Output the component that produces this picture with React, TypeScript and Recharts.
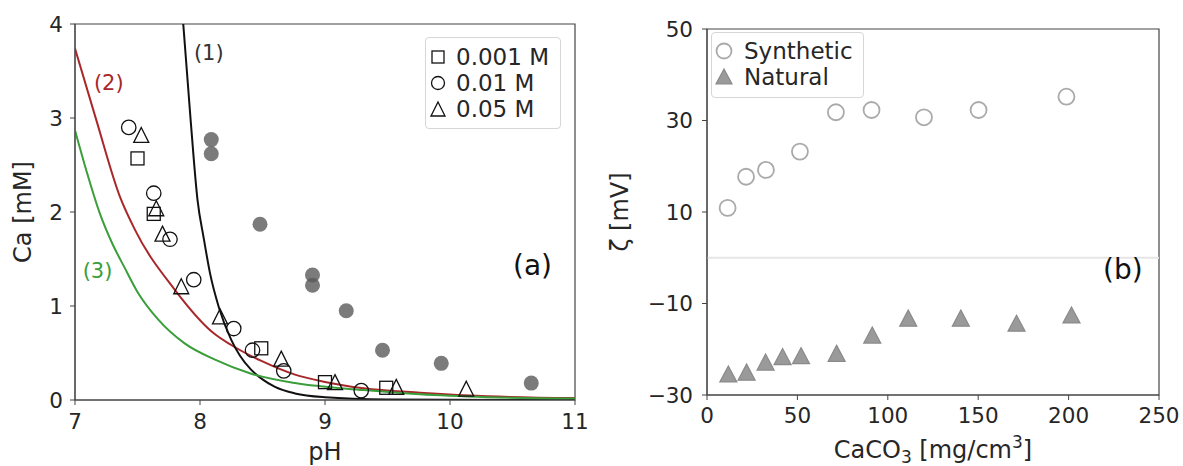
import React from 'react';
import {
  ComposedChart,
  Scatter,
  Line,
  XAxis,
  YAxis,
  ReferenceArea,
  ReferenceLine,
  ReferenceDot,
} from 'recharts';

const FONT = '"DejaVu Sans", sans-serif';
const TXT = '#262626';
const AX = '#444';

// ---------- Panel (a) ----------
const phTicks = [7, 8, 9, 10, 11];
const caTicks = [0, 1, 2, 3, 4];

const sq001pH = [7.5, 7.63, 8.49, 9.0, 9.49];
const sq001Ca = [2.57, 1.98, 0.55, 0.19, 0.13];
const ci01pH = [7.43, 7.63, 7.76, 7.95, 8.27, 8.42, 8.67, 9.29];
const ci01Ca = [2.9, 2.2, 1.71, 1.28, 0.76, 0.53, 0.31, 0.1];
const tr05pH = [7.53, 7.65, 7.7, 7.85, 8.16, 8.65, 9.08, 9.57, 10.13];
const tr05Ca = [2.82, 2.04, 1.77, 1.21, 0.89, 0.44, 0.19, 0.14, 0.12];
const filledpH = [8.09, 8.09, 8.48, 8.9, 8.9, 9.17, 9.46, 9.93, 10.65];
const filledCa = [2.77, 2.62, 1.87, 1.33, 1.22, 0.95, 0.53, 0.39, 0.18];

const curve1pH = [7.866, 7.925, 7.98, 8.03, 8.08, 8.15, 8.25, 8.32, 8.41, 8.5, 8.6, 8.76, 9.0, 9.5, 10, 11];
const curve1Ca = [4.0, 2.98, 2.13, 1.72, 1.35, 0.99, 0.64, 0.47, 0.32, 0.22, 0.14, 0.07, 0.03, 0.006, 0.002, 0.0];
const curve2pH = [7.0, 7.17, 7.36, 7.48, 7.8, 8.11, 8.25, 8.5, 8.76, 8.99, 9.31, 9.76, 10.3, 11];
const curve2Ca = [3.74, 2.98, 2.16, 1.81, 1.17, 0.71, 0.585, 0.41, 0.27, 0.195, 0.124, 0.078, 0.04, 0.02];
const curve3pH = [7.0, 7.1, 7.2, 7.3, 7.4, 7.5, 7.67, 7.88, 8.12, 8.41, 8.76, 9.31, 9.76, 10.3, 11];
const curve3Ca = [2.87, 2.4, 1.98, 1.66, 1.4, 1.15, 0.85, 0.6, 0.43, 0.28, 0.18, 0.106, 0.06, 0.03, 0.015];

// ---------- Panel (b) ----------
const cacoTicks = [0, 50, 100, 150, 200, 250];
const zetaTicks = [-30, -10, 10, 30, 50];
const synthX = [11.4, 21.6, 32.6, 51.4, 71.3, 91.0, 120.0, 150.2, 198.8];
const synthZ = [10.9, 17.7, 19.2, 23.2, 31.8, 32.3, 30.7, 32.3, 35.2];
const natX = [11.8, 21.9, 32.4, 41.8, 52.0, 71.7, 91.4, 111.3, 140.4, 171.2, 201.6];
const natZ = [-25.4, -25.0, -22.8, -21.6, -21.4, -20.9, -16.9, -13.2, -13.2, -14.3, -12.5];

const pts = (xs: number[], ys: number[]) => xs.map((x, i) => ({ x, y: ys[i] }));
const minusFmt = (v: number) => String(v).replace('-', '\u2212');

const RED = '#a8282a';
const GREEN = '#3a9e3a';

const SquareShape = (p: any) => (
  <rect x={p.cx - 6.5} y={p.cy - 6.5} width={13} height={13} fill="none" stroke="#111" strokeWidth={1.3} />
);
const CircleShape = (p: any) => (
  <circle cx={p.cx} cy={p.cy} r={7.2} fill="none" stroke="#111" strokeWidth={1.3} />
);
const TriShape = (p: any) => (
  <path
    d={`M${p.cx},${p.cy - 7.5}L${p.cx + 7.5},${p.cy + 7.5}L${p.cx - 7.5},${p.cy + 7.5}Z`}
    fill="none"
    stroke="#111"
    strokeWidth={1.3}
  />
);
const FilledShape = (p: any) => (
  <circle cx={p.cx} cy={p.cy} r={7.5} fill="#5a5a5a" fillOpacity={0.8} />
);
const SynthShape = (p: any) => (
  <circle cx={p.cx} cy={p.cy} r={8} fill="none" stroke="#aaaaaa" strokeWidth={1.8} />
);
const NatShape = (p: any) => (
  <path
    d={`M${p.cx},${p.cy - 8}L${p.cx + 8.5},${p.cy + 8}L${p.cx - 8.5},${p.cy + 8}Z`}
    fill="#9a9a9a"
    stroke="#8a8a8a"
    strokeWidth={1.2}
  />
);

const tickStyle = { fill: TXT, fontSize: 21.5, fontFamily: FONT };

const textLabel = (txt: string, color: string, size: number) => (props: any) => {
  const vb = props.viewBox || {};
  const cx = vb.x + (vb.width || 0) / 2;
  const cy = vb.y + (vb.height || 0) / 2;
  return (
    <text x={cx} y={cy} dy="0.36em" textAnchor="middle" fill={color} fontSize={size} fontFamily={FONT}>
      {txt}
    </text>
  );
};

const PanelA = () => (
  <ComposedChart width={600} height={466} margin={{ top: 24, right: 25, bottom: 0, left: 0 }}>
    <XAxis
      dataKey="x"
      type="number"
      domain={[7, 11]}
      ticks={phTicks}
      allowDataOverflow
      height={66}
      tickSize={5}
      tickMargin={9}
      stroke={AX}
      tick={tickStyle}
      label={{
        content: (props: any) => {
          const vb = props.viewBox;
          return (
            <text x={vb.x + vb.width / 2} y={vb.y + 60} textAnchor="middle" fill={TXT} fontSize={24} fontFamily={FONT}>
              pH
            </text>
          );
        },
      }}
    />
    <YAxis
      dataKey="y"
      type="number"
      domain={[0, 4]}
      ticks={caTicks}
      allowDataOverflow
      width={75}
      tickSize={5}
      tickMargin={7}
      stroke={AX}
      tick={tickStyle}
      label={{
        content: (props: any) => {
          const vb = props.viewBox;
          const cy = vb.y + vb.height / 2;
          return (
            <text x={31} y={cy} transform={`rotate(-90 31 ${cy})`} textAnchor="middle" fill={TXT} fontSize={24} fontFamily={FONT}>
              Ca [mM]
            </text>
          );
        },
      }}
    />
    <ReferenceArea x1={7} x2={11} y1={0} y2={4} fill="none" stroke={AX} strokeWidth={1.2} />
    <Line data={pts(curve2pH, curve2Ca)} dataKey="y" type="monotone" stroke={RED} strokeWidth={2} dot={false} isAnimationActive={false} />
    <Line data={pts(curve1pH, curve1Ca)} dataKey="y" type="monotone" stroke="#111" strokeWidth={2} dot={false} isAnimationActive={false} />
    <Line data={pts(curve3pH, curve3Ca)} dataKey="y" type="monotone" stroke={GREEN} strokeWidth={2} dot={false} isAnimationActive={false} />
    <Scatter data={pts(filledpH, filledCa)} dataKey="y" shape={FilledShape} isAnimationActive={false} />
    <Scatter data={pts(sq001pH, sq001Ca)} dataKey="y" shape={SquareShape} isAnimationActive={false} />
    <Scatter data={pts(ci01pH, ci01Ca)} dataKey="y" shape={CircleShape} isAnimationActive={false} />
    <Scatter data={pts(tr05pH, tr05Ca)} dataKey="y" shape={TriShape} isAnimationActive={false} />
    <ReferenceDot x={8.07} y={3.7} r={0} fill="none" stroke="none" label={{ content: textLabel('(1)', '#333', 21) }} />
    <ReferenceDot x={7.27} y={3.38} r={0} fill="none" stroke="none" label={{ content: textLabel('(2)', RED, 21) }} />
    <ReferenceDot x={7.18} y={1.38} r={0} fill="none" stroke="none" label={{ content: textLabel('(3)', GREEN, 21) }} />
    <ReferenceDot x={10.66} y={1.44} r={0} fill="none" stroke="none" label={{ content: textLabel('(a)', '#111', 28) }} />
  </ComposedChart>
);

const PanelB = () => (
  <ComposedChart width={583} height={466} margin={{ top: 29, right: 24, bottom: 0, left: 0 }}>
    <XAxis
      dataKey="x"
      type="number"
      domain={[0, 250]}
      ticks={cacoTicks}
      allowDataOverflow
      height={71}
      tickSize={5}
      tickMargin={8}
      stroke={AX}
      tick={tickStyle}
      label={{
        content: (props: any) => {
          const vb = props.viewBox;
          return (
            <text x={vb.x + vb.width / 2} y={vb.y + 63} textAnchor="middle" fill={TXT} fontSize={24} fontFamily={FONT}>
              CaCO<tspan fontSize={17} dy={5}>3</tspan>
              <tspan dy={-5}> [mg/cm</tspan>
              <tspan fontSize={17} dy={-10}>3</tspan>
              <tspan dy={10}>]</tspan>
            </text>
          );
        },
      }}
    />
    <YAxis
      dataKey="y"
      type="number"
      domain={[-30, 50]}
      ticks={zetaTicks}
      tickFormatter={minusFmt}
      allowDataOverflow
      width={107}
      tickSize={5}
      tickMargin={9}
      stroke={AX}
      tick={tickStyle}
      label={{
        content: (props: any) => {
          const vb = props.viewBox;
          const cy = vb.y + vb.height / 2;
          return (
            <text x={28} y={cy} transform={`rotate(-90 28 ${cy})`} textAnchor="middle" fill={TXT} fontSize={24} fontFamily={FONT}>
              ζ [mV]
            </text>
          );
        },
      }}
    />
    <ReferenceLine y={0} stroke="#e6e6e6" strokeWidth={2} />
    <ReferenceArea x1={0} x2={250} y1={-30} y2={50} fill="none" stroke={AX} strokeWidth={1.2} />
    <Scatter data={pts(synthX, synthZ)} dataKey="y" shape={SynthShape} isAnimationActive={false} />
    <Scatter data={pts(natX, natZ)} dataKey="y" shape={NatShape} isAnimationActive={false} />
    <ReferenceDot x={230} y={-2.5} r={0} fill="none" stroke="none" label={{ content: textLabel('(b)', '#111', 28) }} />
  </ComposedChart>
);

const legendRow: React.CSSProperties = {
  display: 'flex',
  alignItems: 'center',
  height: 26,
  fontFamily: FONT,
  fontSize: 23,
  color: TXT,
  whiteSpace: 'nowrap',
};

export default function App() {
  return (
    <div style={{ position: 'absolute', left: 0, top: 0, width: 1183, height: 466, background: '#fff' }}>
      <div style={{ position: 'absolute', left: 0, top: 0 }}>
        <PanelA />
      </div>
      <div style={{ position: 'absolute', left: 600, top: 0 }}>
        <PanelB />
      </div>
      {/* legend (a) */}
      <div
        style={{
          position: 'absolute',
          left: 425,
          top: 37,
          width: 136,
          height: 92,
          border: '1px solid #d6d6d6',
          borderRadius: 4,
          background: 'rgba(255,255,255,0.85)',
          boxSizing: 'border-box',
          paddingTop: 6,
        }}
      >
        {[
          { label: '0.001 M', icon: <rect x={4} y={4} width={12} height={12} fill="none" stroke="#111" strokeWidth={1.3} /> },
          { label: '0.01 M', icon: <circle cx={10} cy={10} r={6.5} fill="none" stroke="#111" strokeWidth={1.3} /> },
          { label: '0.05 M', icon: <path d="M10,3L17,17L3,17Z" fill="none" stroke="#111" strokeWidth={1.3} /> },
        ].map((e) => (
          <div key={e.label} style={legendRow}>
            <svg width={20} height={20} style={{ marginLeft: 2, marginRight: 8 }}>
              {e.icon}
            </svg>
            <span>{e.label}</span>
          </div>
        ))}
      </div>
      {/* legend (b) */}
      <div
        style={{
          position: 'absolute',
          left: 711,
          top: 32,
          width: 153,
          height: 66,
          border: '1px solid #d6d6d6',
          borderRadius: 4,
          background: 'rgba(255,255,255,0.85)',
          boxSizing: 'border-box',
          paddingTop: 5,
        }}
      >
        {[
          { label: 'Synthetic', icon: <circle cx={11} cy={11} r={7.5} fill="none" stroke="#aaaaaa" strokeWidth={1.8} /> },
          { label: 'Natural', icon: <path d="M11,3L19,18L3,18Z" fill="#9a9a9a" stroke="#8a8a8a" strokeWidth={1.2} /> },
        ].map((e) => (
          <div key={e.label} style={legendRow}>
            <svg width={22} height={22} style={{ marginLeft: 1, marginRight: 9 }}>
              {e.icon}
            </svg>
            <span>{e.label}</span>
          </div>
        ))}
      </div>
    </div>
  );
}
